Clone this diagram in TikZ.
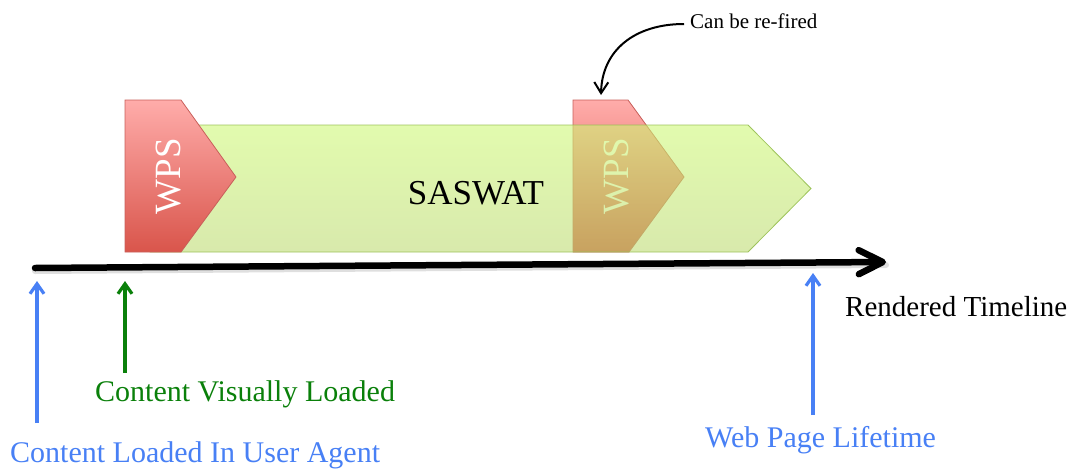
\documentclass[tikz,border=0pt]{standalone}
\usepackage{fontspec}
\setmainfont{Liberation Serif}
\usetikzlibrary{arrows.meta}

\definecolor{wpsTop}{RGB}{255,172,170}
\definecolor{wpsBot}{RGB}{217,85,75}
\definecolor{wpsLine}{RGB}{200,95,90}
\definecolor{grnTop}{RGB}{205,248,115}
\definecolor{grnBot}{RGB}{188,218,112}
\definecolor{grnLine}{RGB}{150,190,80}
\definecolor{markBlue}{RGB}{72,128,245}
\definecolor{markGreen}{RGB}{10,128,10}

\tikzset{
  wpsshape/.style={top color=wpsTop,bottom color=wpsBot,draw=wpsLine,line width=0.8pt,line join=miter},
  saswatshape/.style={top color=grnTop,bottom color=grnBot,draw=grnLine,line width=0.8pt,fill opacity=0.58,draw opacity=0.9},
  wpslabel/.style={text=white,font=\fontsize{37}{40}\selectfont,rotate=90,inner sep=0pt},
  biglabel/.style={font=\fontsize{30}{34}\selectfont,inner sep=0pt},
  timeline/.style={line width=6.5pt,line cap=round,-{Straight Barb[length=24pt,width=24pt,round]}},
  marker/.style={line width=3.2pt,-{Straight Barb[length=10pt,width=14pt]}},
}

\begin{document}
\begin{tikzpicture}[x=1pt,y=-1pt]
  \useasboundingbox (0,0) rectangle (1083,469);

  % second WPS block (sits behind the SASWAT band)
  \path[wpsshape] (573,100) -- (628,100) -- (684,177) -- (629,252) -- (573,252) -- cycle;
  \node[wpslabel] (wps2) at (617,176) {WPS};

  % SASWAT band, translucent
  \path[saswatshape] (150,125) -- (748,125) -- (811,188.5) -- (748,252) -- (150,252) -- cycle;
  \node[font=\fontsize{35}{38}\selectfont,inner sep=0pt,anchor=base] (saswat) at (476,204) {SASWAT};

  % first WPS block, in front
  \path[wpsshape] (125,100) -- (181,100) -- (236,177) -- (181,252) -- (125,252) -- cycle;
  \node[wpslabel] (wps1) at (169,176) {WPS};

  % rendered timeline with a soft shadow
  \coordinate (tlS) at (35,268);
  \coordinate (tlE) at (886,262);
  \draw[line width=6pt,line cap=round,gray,opacity=0.25] ([yshift=-3pt]tlS) -- ([yshift=-3pt]tlE);
  \draw[timeline] (tlS) -- (tlE);
  \node[biglabel,anchor=base west,font=\fontsize{29}{32}\selectfont] (rt) at (845,316) {Rendered Timeline};

  % markers below the timeline
  \node[biglabel,anchor=base west,text=markBlue] (cl) at (10,462) {Content Loaded In User Agent};
  \coordinate (clTop) at (37,281);
  \coordinate (clBot) at (37,423);
  \draw[marker,markBlue] (clBot) -- (clTop);

  \node[biglabel,anchor=base west,text=markGreen] (cvl) at (95,401) {Content Visually Loaded};
  \coordinate (cvTop) at (125,281);
  \coordinate (cvBot) at (125,373);
  \draw[marker,markGreen] (cvBot) -- (cvTop);

  \node[biglabel,anchor=base west,text=markBlue] (wpl) at (705,447) {Web Page Lifetime};
  \coordinate (wpTop) at (813,273);
  \coordinate (wpBot) at (813,415);
  \draw[marker,markBlue] (wpBot) -- (wpTop);

  % note about re-firing
  \node[inner sep=0pt,anchor=base west,font=\fontsize{21}{24}\selectfont] (refire) at (690,28) {Can be re-fired};
  \coordinate (rfS) at (684,24);
  \coordinate (rfE) at (601,95);
  \draw[line width=2pt,-{Straight Barb[length=11pt,width=14pt]}] (rfS) .. controls (635,24) and (602,50) .. (rfE);
\end{tikzpicture}
\end{document}
